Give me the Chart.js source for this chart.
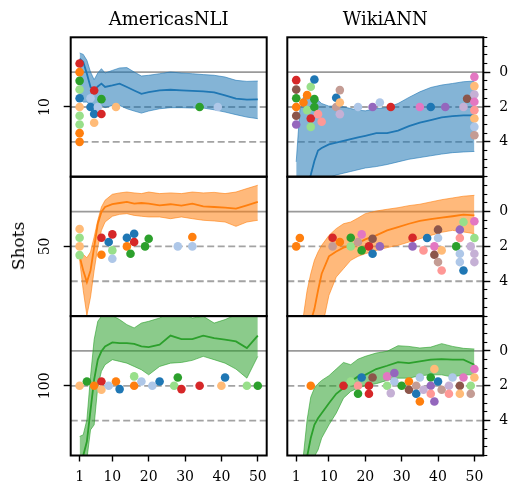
<!DOCTYPE html>
<html>
<head>
<meta charset="utf-8">
<script src="https://cdn.jsdelivr.net/npm/chart.js@4.4.1/dist/chart.umd.min.js"></script>
<style>
  html, body { margin: 0; padding: 0; background: #fff; }
  #page { position: relative; width: 511px; height: 484px; overflow: hidden; font-family: 'DejaVu Serif', serif; color: #000; }
  #page canvas { position: absolute; left: 0; top: 0; }
  .title { position: absolute; top: 8px; font-size: 18px; line-height: 22px; transform: translateX(-50%); white-space: nowrap; }
  .ylab { position: absolute; font-size: 17px; line-height: 20px; transform: translate(-50%, -50%) rotate(-90deg); white-space: nowrap; }
</style>
</head>
<body>
<div id="page"></div>
<script>
// x positions (number of examples seen) at which the curves were read
const steps = [1, 2, 3, 4, 5, 6, 7, 8, 10, 12, 14, 16, 18, 20, 23, 26, 29, 32, 35, 38, 41, 44, 47, 50]
const xTicks = [1, 10, 20, 30, 40, 50]
const rightTicks = [0, 2, 4]
const shotLevel = 2
const rowShots = ['10', '50', '100']
const columnNames = ['AmericasNLI', 'WikiANN']
const baseLevel = 0
const dashLevels = [2, 4]
const yRange = [-2, 6]
const xRange = [-1.45, 52.45]
const minorStep = 0.5

// tab20 — one colour per language
const langColors = ['#1f77b4', '#aec7e8', '#ff7f0e', '#ffbb78', '#2ca02c', '#98df8a', '#d62728',
  '#ff9896', '#9467bd', '#c5b0d5', '#8c564b', '#c49c94', '#e377c2', '#f7b6d2']

// AmericasNLI, 10 shots
const nli10Mean = [-0.77, -0.58, 0.09, 0.85, 1.05, 0.82, 0.66, 0.85, 0.76, 0.66, 0.85, 1.05, 1.24, 1.14, 1.05, 1.01, 1.05, 1.08, 1.10, 1.16, 1.33, 1.52, 1.58, 1.56]
const nli10Min = [-1.10, -1.02, -0.68, -0.01, 0.43, 0.05, -0.20, 0.05, -0.10, -0.24, -0.26, -0.01, 0.22, 0.18, 0.09, -0.01, 0.05, 0.09, 0.14, 0.18, 0.28, 0.47, 0.53, 0.51]
const nli10Max = [1.52, 1.72, 1.72, 1.91, 2.0, 1.96, 1.91, 2.04, 1.91, 1.91, 2.10, 2.23, 2.35, 2.23, 2.10, 2.04, 2.04, 2.06, 2.06, 2.16, 2.29, 2.44, 2.58, 2.67]
const nli10Pts = [[1, -0.5, 6], [1, 0, 2], [1, 0.5, 4], [1, 1, 5], [1, 1.5, 0], [1, 2, 3], [1, 2.5, 5], [1, 3, 5], [1, 3.5, 2], [1, 4, 2],
  [5, 1.05, 6], [4, 1.5, 1], [4, 2, 0], [7, 1.55, 4], [6, 2, 1], [5, 2.4, 0], [7, 2.4, 6], [5, 2.9, 3], [11, 2, 3], [34, 2, 4], [39, 2, 1]]

// WikiANN, 10 shots
const wiki10Mean = [9, 8, 7.2, 6.5, 5.9, 5.1, 4.5, 4.35, 4.15, 4.05, 3.95, 3.85, 3.75, 3.65, 3.5, 3.5, 3.35, 3.1, 2.9, 2.75, 2.6, 2.52, 2.48, 2.48]
const wiki10Min = [5.15, 2.18, 1.42, 1.26, 1.42, 1.61, 1.61, 1.80, 1.95, 1.95, 1.99, 2.09, 2.18, 2.22, 2.09, 2.03, 1.80, 1.45, 1.13, 0.88, 0.74, 0.65, 0.55, 0.51]
const wiki10Max = [6.5, 6.5, 6.5, 6.5, 6.5, 6.5, 6.4, 6.3, 6.05, 5.9, 5.8, 5.7, 5.6, 5.5, 5.42, 5.3, 5.15, 5.0, 4.9, 4.8, 4.7, 4.62, 4.58, 4.55]
const wiki10Pts = [[1, 0.46, 6], [1, 1, 10], [1, 1.5, 4], [1, 2, 2], [1, 2.5, 10], [1, 3, 8],
  [3, 1.74, 2], [4, 1.32, 2], [4, 2.18, 5], [5, 0.84, 5], [5, 2.66, 6], [5, 3.14, 5],
  [6, 0.42, 0], [6, 1.55, 4], [6, 2, 4], [7, 2.41, 7], [8, 2.85, 7],
  [12, 1.47, 0], [12, 2, 11], [13, 1.03, 11], [13, 1.74, 3], [13, 2.41, 9],
  [18, 2, 1], [22, 2, 8], [24, 1.74, 1], [27, 2, 6], [35, 2, 12], [38, 2, 0], [42, 2, 8], [47, 2, 9], [48, 1.53, 10],
  [50, 0.27, 12], [50, 0.8, 3], [50, 1.28, 9], [50, 1.7, 12], [50, 2.18, 7], [50, 2.66, 3], [50, 3.14, 1], [50, 3.62, 11]]

// AmericasNLI, 50 shots
const nli50Mean = [2.57, 3.38, 4.05, 3.38, 2.04, 0.70, 0.02, -0.26, -0.42, -0.49, -0.55, -0.45, -0.49, -0.45, -0.36, -0.42, -0.34, -0.45, -0.30, -0.26, -0.22, -0.17, -0.36, -0.55]
const nli50Min = [2.38, 2.46, 2.65, 2.32, 1.46, 0.50, -0.26, -0.65, -0.99, -1.07, -1.12, -1.07, -1.03, -1.12, -1.03, -1.07, -1.03, -1.12, -1.07, -1.10, -1.03, -1.12, -1.32, -1.51]
const nli50Max = [2.76, 4.53, 5.96, 4.91, 3.38, 2.04, 1.08, 0.60, 0.27, 0.16, 0.12, 0.22, 0.27, 0.31, 0.31, 0.41, 0.31, 0.41, 0.50, 0.54, 0.60, 0.85, 0.60, 0.50]
const nli50Pts = [[1, 1, 3], [1, 1.5, 5], [1, 2, 3], [1, 2.5, 5],
  [7, 1.5, 6], [7, 2.48, 2], [9, 1.75, 0], [10, 1.31, 6], [10, 2.23, 5], [10, 2.71, 1],
  [14, 1.5, 0], [14, 2, 2], [15, 2.42, 4], [16, 1.27, 0], [16, 1.75, 6], [19, 2, 4], [20, 1.56, 4], [28, 2, 1], [32, 1.46, 2], [32, 2, 1]]

// WikiANN, 50 shots
const wiki50Mean = [12, 10, 8.5, 7.2, 6.3, 5.6, 4.53, 3.57, 2.57, 2.29, 2.07, 1.94, 1.81, 1.60, 1.37, 1.08, 0.89, 0.70, 0.54, 0.43, 0.35, 0.27, 0.18, 0.22]
const wiki50Min = [9, 7.2, 5.96, 4.53, 3.57, 2.80, 2.32, 1.94, 1.37, 0.98, 0.70, 0.60, 0.37, 0.12, -0.03, -0.13, -0.22, -0.34, -0.42, -0.55, -0.68, -0.78, -0.88, -0.93]
const wiki50Max = [14, 13, 12, 11, 10, 9, 8, 6.8, 4.81, 3.76, 3.28, 2.80, 2.57, 2.42, 2.23, 2.07, 1.94, 1.75, 1.56, 1.37, 1.19, 1.08, 1.17, 1.27]
const wiki50Pts = [[1, 2, 2], [2, 1.52, 2], [11, 1.5, 6], [11, 2, 11], [13, 1.75, 2], [16, 1.5, 4], [16, 2, 5], [18, 1.75, 11],
  [19, 1.31, 12], [19, 2.23, 4], [21, 2, 6], [22, 1.56, 10], [22, 2.42, 0], [24, 2, 8],
  [33, 1.5, 6], [33, 2, 8], [36, 2.23, 7], [37, 1.52, 0], [39, 2, 12], [39, 2.48, 10], [40, 1.04, 10], [40, 1.52, 1],
  [40, 2.9, 11], [41, 2.23, 3], [41, 3.38, 7], [45, 2, 4], [46, 1.04, 8], [46, 1.52, 7], [46, 2.42, 1], [46, 2.9, 1],
  [47, 3.38, 0], [47, 0.6, 5], [49, 2, 9], [50, 0.56, 12], [50, 1.52, 5], [50, 2.42, 9], [50, 2.9, 9]]

// AmericasNLI, 100 shots
const nli100Mean = [6.3, 6.0, 5.2, 3.4, 1.65, 0.5, 0.02, -0.26, -0.49, -0.45, -0.45, -0.4, -0.26, -0.22, -0.36, -0.88, -0.68, -0.68, -0.88, -0.74, -0.65, -0.55, -0.17, -0.88]
const nli100Min = [4.91, 4.81, 3.95, 1.46, -0.65, -1.7, -1.99, -2.08, -2.03, -1.8, -1.51, -1.32, -1.6, -1.7, -1.89, -2.27, -2.18, -1.89, -1.99, -1.6, -1.8, -2.08, -2.22, -2.37]
const nli100Max = [6.6, 6.4, 6.2, 4.53, 4.24, 2.04, 1.17, 0.79, 0.5, 0.6, 0.7, 0.89, 1.08, 1.37, 0.89, 0.70, 0.66, 0.54, 0.31, 0.5, 0.70, 1.04, 1.56, 0.31]
const nli100Pts = [[1, 2, 3], [3, 1.75, 4], [5, 2, 2], [7, 1.75, 6], [7, 2.23, 3], [9, 2, 1], [11, 1.75, 2], [12, 2.19, 0],
  [16, 2, 2], [16, 1.46, 5], [18, 1.75, 1], [21, 2, 1], [23, 1.75, 0], [27, 2, 5], [28, 1.52, 4], [29, 2.19, 6],
  [34, 2, 6], [40, 2, 3], [41, 1.52, 0], [47, 2, 5], [50, 2, 4]]

// WikiANN, 100 shots
const wiki100Mean = [12, 10, 8, 6.06, 5.0, 4.24, 3.86, 3.57, 3.0, 2.46, 2.13, 1.75, 1.46, 1.37, 1.04, 0.85, 0.64, 0.70, 0.60, 0.50, 0.47, 0.50, 0.50, 0.79]
const wiki100Min = [10.5, 8.4, 5.96, 3.95, 2.65, 2.13, 1.88, 1.69, 1.42, 1.04, 0.66, 0.79, 0.47, 0.31, 0.12, 0.02, -0.30, -0.26, -0.17, -0.22, -0.42, -0.26, -0.15, -0.11]
const wiki100Max = [14, 13, 12, 10, 8, 6.06, 5.68, 5.0, 4.24, 3.57, 2.71, 2.32, 2.13, 2.0, 1.88, 1.69, 1.56, 1.56, 1.42, 1.37, 1.37, 1.50, 1.37, 1.37]
const wiki100Pts = [[5, 2, 2], [14, 2, 6], [16, 1.75, 5], [18, 2, 7], [18, 2.46, 4], [19, 1.52, 0], [21, 2, 6], [21, 2.46, 6],
  [22, 1.52, 10], [26, 1.46, 12], [26, 2, 5], [27, 2.42, 9], [28, 1.27, 8], [28, 1.75, 1], [30, 2, 4], [32, 1.75, 2],
  [32, 2.23, 10], [34, 2, 11], [34, 2.46, 0], [35, 1.52, 1], [35, 2.9, 2], [36, 2.23, 9], [38, 1.52, 4], [38, 2, 8],
  [38, 2.46, 7], [39, 1.04, 3], [39, 2.9, 8], [40, 1.75, 0], [41, 2.23, 11], [43, 2, 9], [43, 2.46, 7], [44, 1.52, 1],
  [46, 2, 10], [46, 2.46, 3], [47, 1.52, 12], [49, 2, 5], [49, 2.46, 11], [50, 1.04, 12], [50, 1.52, 3]]

const rowRgb = ['31,119,180', '255,127,14', '44,160,44']

const panels = [
  { row: 0, col: 0, mean: nli10Mean, min: nli10Min, max: nli10Max, pts: nli10Pts },
  { row: 0, col: 1, mean: wiki10Mean, min: wiki10Min, max: wiki10Max, pts: wiki10Pts },
  { row: 1, col: 0, mean: nli50Mean, min: nli50Min, max: nli50Max, pts: nli50Pts },
  { row: 1, col: 1, mean: wiki50Mean, min: wiki50Min, max: wiki50Max, pts: wiki50Pts },
  { row: 2, col: 0, mean: nli100Mean, min: nli100Min, max: nli100Max, pts: nli100Pts },
  { row: 2, col: 1, mean: wiki100Mean, min: wiki100Min, max: wiki100Max, pts: wiki100Pts }
]

// page geometry
const W = 511, H = 484
const colX = [70.7, 287.3], plotW = 196
const rowY = [37.3, 176.7, 316.1], plotH = 139.4
const leftAxisW = 30, rightAxisW = 26, bottomAxisH = 28
const tickFont = { family: 'DejaVu Serif', size: 14 }

Chart.defaults.font.family = 'DejaVu Serif'
Chart.defaults.color = '#000'

// black box round each panel + rotated shot count on the left
const frame = {
  id: 'frame',
  afterDatasetsDraw(chart, args, opts) {
    const { ctx, chartArea: a } = chart
    ctx.save()
    ctx.strokeStyle = '#000'
    ctx.lineWidth = 2
    ctx.strokeRect(a.left, a.top, a.right - a.left, a.bottom - a.top)
    if (opts.label) {
      ctx.translate(a.left - 25, chart.scales.y.getPixelForValue(shotLevel))
      ctx.rotate(-Math.PI / 2)
      ctx.font = '14px "DejaVu Serif"'
      ctx.fillStyle = '#000'
      ctx.textAlign = 'center'
      ctx.textBaseline = 'middle'
      ctx.fillText(opts.label, 0, 0)
    }
    ctx.restore()
  }
}

const pts = (arr) => steps.map((s, i) => ({ x: s, y: arr[i] }))
const hline = (lvl) => [{ x: xRange[0], y: lvl }, { x: xRange[1], y: lvl }]

function buildDatasets(p) {
  const rgb = rowRgb[p.row]
  return [
    {
      type: 'scatter',
      data: p.pts.map(q => ({ x: q[0], y: q[1] })),
      pointBackgroundColor: p.pts.map(q => langColors[q[2]]),
      pointBorderWidth: 0,
      pointRadius: 4.3,
      showLine: false,
      order: 0
    },
    { data: pts(p.mean), borderColor: `rgb(${rgb})`, borderWidth: 1.8, pointRadius: 0, fill: false, order: 1 },
    {
      data: pts(p.min), borderColor: `rgba(${rgb},0.6)`, borderWidth: 1, pointRadius: 0,
      backgroundColor: `rgba(${rgb},0.55)`, fill: '+1', order: 2
    },
    { data: pts(p.max), borderColor: `rgba(${rgb},0.6)`, borderWidth: 1, pointRadius: 0, fill: false, order: 2 },
    { data: hline(baseLevel), borderColor: '#9a9a9a', borderWidth: 1.8, pointRadius: 0, fill: false, order: 3 },
    ...dashLevels.map(l => ({
      data: hline(l), borderColor: '#a3a3a3', borderWidth: 1.8, borderDash: [7, 3.5],
      pointRadius: 0, fill: false, order: 3
    }))
  ]
}

function buildScales(isLeft, isBottom) {
  const scales = {
    x: {
      type: 'linear', min: xRange[0], max: xRange[1], display: isBottom,
      afterBuildTicks: s => { s.ticks = xTicks.map(v => ({ value: v })) },
      ticks: { font: tickFont, color: '#000', padding: 7, maxRotation: 0, autoSkip: false },
      grid: { drawOnChartArea: false, tickLength: 6, tickColor: '#000', tickWidth: 1.4 },
      border: { display: false },
      afterFit: s => { s.height = isBottom ? bottomAxisH : 0 }
    }
  }
  if (isLeft) {
    scales.y = {
      position: 'left', min: yRange[0], max: yRange[1], reverse: true,
      afterBuildTicks: s => { s.ticks = [{ value: shotLevel }] },
      ticks: { display: false },
      grid: { drawOnChartArea: false, tickLength: 7, tickColor: '#000', tickWidth: 1.4 },
      border: { display: false },
      afterFit: s => { s.width = leftAxisW }
    }
  } else {
    scales.y = {
      position: 'right', weight: 1, min: yRange[0], max: yRange[1], reverse: true,
      afterBuildTicks: s => { s.ticks = rightTicks.map(v => ({ value: v })) },
      ticks: { font: tickFont, color: '#000', padding: 9, autoSkip: false },
      grid: { drawOnChartArea: false, tickLength: 7, tickColor: '#000', tickWidth: 1.4 },
      border: { display: false },
      afterFit: s => { s.width = rightAxisW }
    }
    scales.yMinor = {
      position: 'right', weight: 0, min: yRange[0], max: yRange[1], reverse: true,
      ticks: { stepSize: minorStep, display: false, autoSkip: false },
      grid: { drawOnChartArea: false, tickLength: 4, tickColor: '#000', tickWidth: 1.1 },
      border: { display: false },
      afterFit: s => { s.width = 0 }
    }
  }
  return scales
}

const page = document.getElementById('page')

panels.forEach(p => {
  const cv = document.createElement('canvas')
  cv.width = W
  cv.height = H
  cv.style.width = W + 'px'
  cv.style.height = H + 'px'
  page.appendChild(cv)

  const isLeft = p.col === 0, isBottom = p.row === 2
  const x0 = colX[p.col], y0 = rowY[p.row]
  const padding = {
    left: isLeft ? x0 - leftAxisW : x0,
    right: W - (x0 + plotW) - (isLeft ? 0 : rightAxisW),
    top: y0,
    bottom: H - (y0 + plotH) - (isBottom ? bottomAxisH : 0)
  }

  new Chart(cv, {
    type: 'line',
    data: { datasets: buildDatasets(p) },
    options: {
      responsive: false,
      animation: false,
      events: [],
      layout: { padding },
      scales: buildScales(isLeft, isBottom),
      plugins: {
        legend: { display: false },
        tooltip: { enabled: false },
        frame: { label: isLeft ? rowShots[p.row] : null }
      }
    },
    plugins: [frame]
  })
})

// column titles and the shared y label
columnNames.forEach((name, c) => {
  const d = document.createElement('div')
  d.className = 'title'
  d.textContent = name
  d.style.left = (colX[c] + plotW / 2) + 'px'
  page.appendChild(d)
})
const yl = document.createElement('div')
yl.className = 'ylab'
yl.textContent = 'Shots'
yl.style.left = '17.5px'
yl.style.top = (rowY[1] + plotH / 2) + 'px'
page.appendChild(yl)
</script>
</body>
</html>
